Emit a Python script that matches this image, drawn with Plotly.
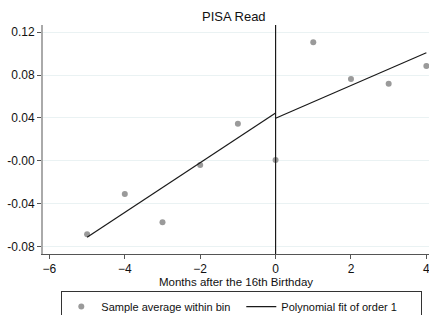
import plotly.graph_objects as go

# Data
bin_x = [-5, -4, -3, -2, -1, 0, 1, 2, 3, 4]
bin_y = [-0.0688, -0.0311, -0.0576, -0.0040, 0.0346, 0.0007, 0.1107, 0.0764, 0.0720, 0.0885]

fit_left_x = [-5, 0]
fit_left_y = [-0.0716, 0.0446]
fit_right_x = [0, 4]
fit_right_y = [0.0396, 0.1009]

cutoff = 0

x_tickvals = [-6, -4, -2, 0, 2, 4]
y_tickvals = [-0.08, -0.04, 0.0, 0.04, 0.08, 0.12]
y_ticktext = ["-0.08", "-0.04", "-0.00", "0.04", "0.08", "0.12"]

FONT = "Liberation Sans, Arial, sans-serif"

fig = go.Figure()
fig.add_trace(go.Scatter(
    x=bin_x, y=bin_y, mode="markers",
    marker=dict(color="#9a9a9a", size=6),
    name="Sample average within bin",
))
fig.add_trace(go.Scatter(
    x=fit_left_x, y=fit_left_y, mode="lines",
    line=dict(color="#1a1a1a", width=1.2),
    name="Polynomial fit of order 1", legendgroup="fit",
))
fig.add_trace(go.Scatter(
    x=fit_right_x, y=fit_right_y, mode="lines",
    line=dict(color="#1a1a1a", width=1.2),
    name="Polynomial fit of order 1", legendgroup="fit", showlegend=False,
))

fig.add_shape(type="line", xref="x", yref="paper", x0=cutoff, x1=cutoff, y0=0, y1=1,
              line=dict(color="#1a1a1a", width=1.2))

fig.update_layout(
    width=429, height=315,
    margin=dict(l=43, r=0, t=25, b=61, autoexpand=False),
    paper_bgcolor="white", plot_bgcolor="white",
    font=dict(family=FONT, size=12, color="#111"),
    title=dict(text="PISA Read", x=0.545, xanchor="center", y=0.962, yanchor="top",
               font=dict(size=13, color="#111")),
    showlegend=True,
    legend=dict(orientation="h", x=0.515, xanchor="center", y=-0.162, yanchor="top",
                bordercolor="#333", borderwidth=1, entrywidth=135,
                font=dict(size=11), itemwidth=30, tracegroupgap=0),
)
fig.update_xaxes(
    range=[-6.17, 4.07], tickvals=x_tickvals, automargin=False,
    ticklabeloverflow="allow",
    showgrid=False, zeroline=False,
    showline=True, linecolor="#555", linewidth=1,
    ticks="outside", ticklen=4, tickcolor="#555",
    title=dict(text="Months after the 16th Birthday", standoff=0, font=dict(size=11.5)),
)
fig.update_yaxes(
    range=[-0.0872, 0.1268], tickvals=y_tickvals, ticktext=y_ticktext, automargin=False,
    showgrid=True, gridcolor="#eaf2f3", gridwidth=1, zeroline=False,
    showline=True, linecolor="#aaaaaa", linewidth=2,
    ticks="outside", ticklen=4, tickcolor="#555",
)

fig.write_html(
    "out.html",
    config={"displayModeBar": False},
    post_script="document.body.style.margin='0';document.body.style.overflow='hidden';",
)
